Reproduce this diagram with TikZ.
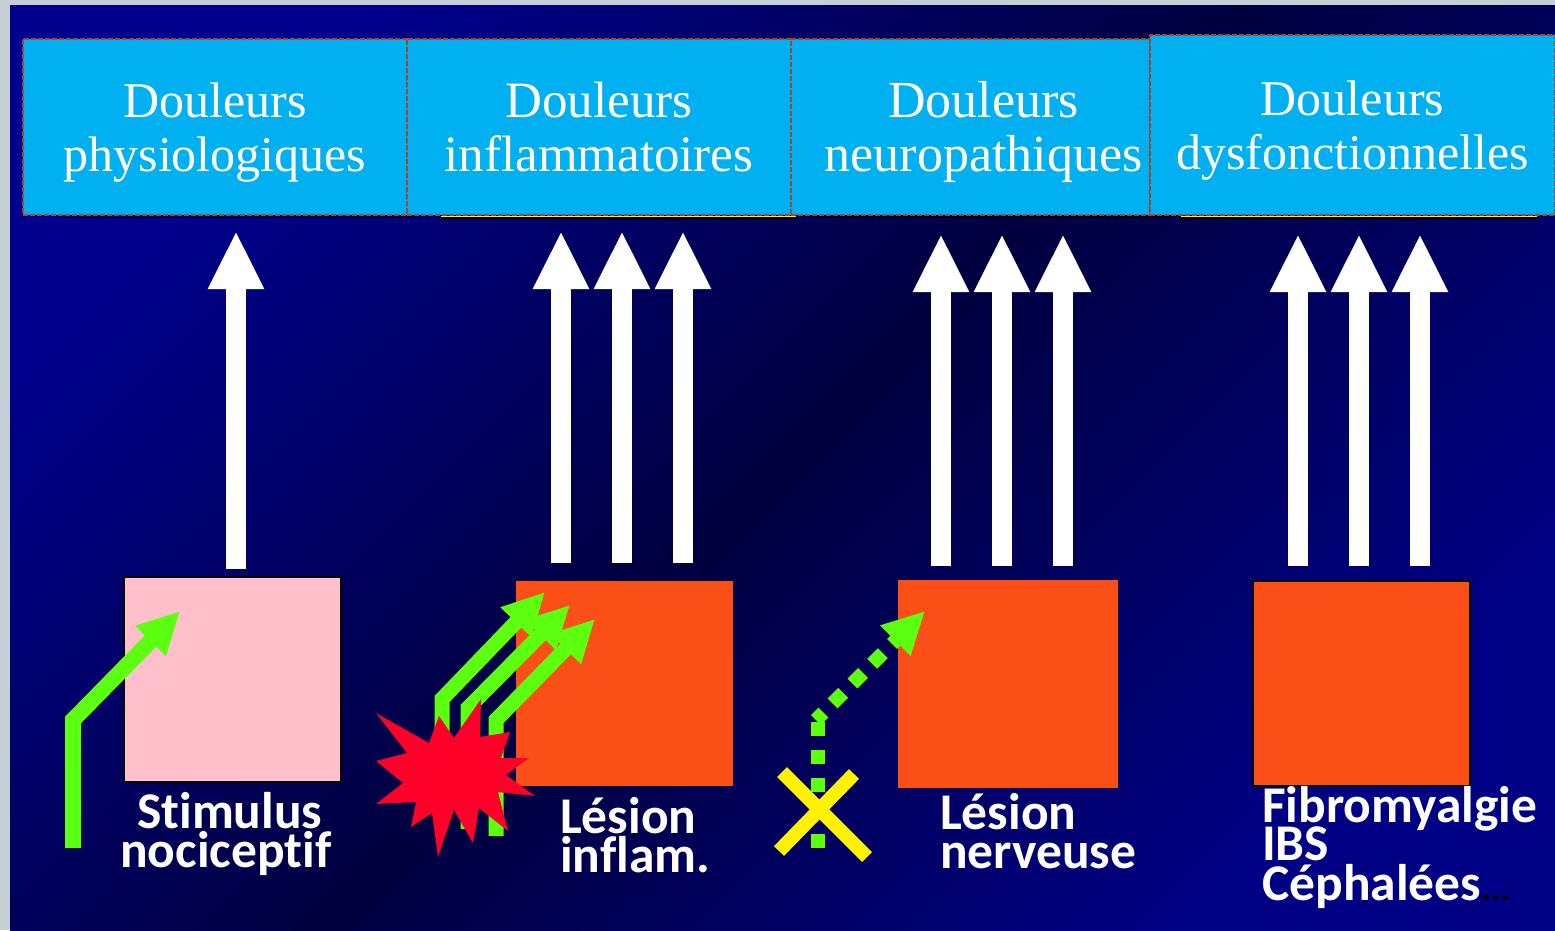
\documentclass[tikz,border=0pt]{standalone}
\usepackage{fontspec}
\setmainfont{Liberation Serif}
\newfontfamily\labelfont{Carlito}[Ligatures=NoCommon]
\usetikzlibrary{arrows.meta,positioning}
\definecolor{pagegrey}{HTML}{C5D0D6}
\definecolor{deepblue}{HTML}{00008C}
\definecolor{darkblue}{HTML}{00003F}
\definecolor{farblue}{HTML}{000084}
\definecolor{headblue}{HTML}{00B0F0}
\definecolor{headline}{HTML}{A8452F}
\definecolor{pinkbox}{HTML}{FFC0CB}
\definecolor{orangebox}{HTML}{FA5018}
\definecolor{greenarrow}{HTML}{5CFF10}
\definecolor{redstar}{HTML}{FF0028}
\newcommand{\headstrut}{\rule{0pt}{46pt}}
\newcommand{\headdepth}{\rule[-11pt]{0pt}{11pt}}

\begin{document}
\begin{tikzpicture}[
    x=1pt, y=-1pt,
    headbox/.style={
        rectangle, draw=headline, dash pattern=on 5pt off 2pt, line width=1.6pt, fill=headblue,
        anchor=north west, inner sep=0pt, outer sep=0pt, align=center, text=white,
        minimum height=176pt, font=\fontsize{50}{54}\selectfont
    },
    square/.style={rectangle, anchor=north west, inner sep=0pt, outer sep=0pt},
    blockarrow/.style={-{Triangle[length=58pt,width=52pt]}, white, line width=20pt, shorten >=16pt},
    lesionarrow/.style={-{Triangle[length=42pt,width=40pt]}, greenarrow, line width=15pt},
    crossline/.style={yellow, line width=14pt},
    labeltext/.style={
        text=white, align=left, inner sep=0pt,
        font=\labelfont\bfseries\fontsize{51.5}{39.5}\selectfont
    },
    shadowline/.style={black, line width=1.5pt}
]
\useasboundingbox (0,0) rectangle (1555,930);
\fill[pagegrey] (0,0) rectangle (1555,930);
\shade[top color=deepblue, bottom color=farblue, middle color=darkblue, shading angle=45] (10,5) rectangle (1555,930);

% lines under the headers
\draw[shadowline] (60,217.5) -- (415,217.5);
\draw[shadowline] (441,218) -- (797,218);
\draw[shadowline] (810,217.5) -- (1170,217.5);
\draw[shadowline] (1181,218) -- (1538,218);
\draw[yellow, line width=1.2pt] (441,216.5) -- (796,216.5);
\draw[yellow, line width=1.2pt] (1181,216.5) -- (1537,216.5);

\node[headbox, minimum width=384pt] (physio) at (23,39) {\headstrut Douleurs\\physiologiques\headdepth};
\node[headbox, minimum width=384pt, font=\fontsize{51}{54}\selectfont] (inflam) at (407,39) {\headstrut Douleurs\\inflammatoires\headdepth};
\node[headbox, text width=359pt, font=\fontsize{52}{54}\selectfont] (neuro) at (791,39) {\headstrut\hspace*{26pt}Douleurs\\\hspace*{26pt}neuropathiques\headdepth};
\node[headbox, minimum width=405pt, minimum height=180pt] (dysf) at (1150,35) {\headstrut Douleurs\\dysfonctionnelles\headdepth};

\node[square, fill=pinkbox, draw=black, line width=1.5pt, minimum width=217pt, minimum height=205pt] (stim) at (124,577) {};
\node[square, fill=orangebox, minimum width=217pt, minimum height=205pt] (infl) at (516,581) {};
\node[square, fill=orangebox, minimum width=220pt, minimum height=208pt] (nerv) at (898,580) {};
\node[square, fill=orangebox, draw=black, line width=1.5pt, minimum width=217pt, minimum height=205pt] (fibro) at (1253,581) {};

% white arrows up to the headers
\coordinate (s1) at (236,569);
\coordinate (i1) at (561,563);
\coordinate (i2) at (622,563);
\coordinate (i3) at (683,563);
\coordinate (n1) at (941,566);
\coordinate (n2) at (1002,566);
\coordinate (n3) at (1063,566);
\coordinate (f1) at (1298,566);
\coordinate (f2) at (1359,566);
\coordinate (f3) at (1420,566);
\draw[blockarrow] (s1) -- (s1 |- physio.south);
\draw[blockarrow] (i1) -- (i1 |- inflam.south);
\draw[blockarrow] (i2) -- (i2 |- inflam.south);
\draw[blockarrow] (i3) -- (i3 |- inflam.south);
\draw[blockarrow, shorten >=19pt] (n1) -- (n1 |- neuro.south);
\draw[blockarrow, shorten >=19pt] (n2) -- (n2 |- neuro.south);
\draw[blockarrow, shorten >=19pt] (n3) -- (n3 |- neuro.south);
\draw[blockarrow, shorten >=19pt] (f1) -- (f1 |- dysf.south);
\draw[blockarrow, shorten >=19pt] (f2) -- (f2 |- dysf.south);
\draw[blockarrow, shorten >=19pt] (f3) -- (f3 |- dysf.south);

% green arrows
\coordinate (stimfoot) at (73,848);
\coordinate (stimtip) at (180,611);
\coordinate (aafoot) at (442,820);
\coordinate (aatip) at (545,592);
\coordinate (bbfoot) at (468,829);
\coordinate (bbtip) at (570,605);
\coordinate (ccfoot) at (496,836);
\coordinate (cctip) at (595,619);
\coordinate (nervfoot) at (818,848);
\coordinate (nervbend) at (816,720);
\coordinate (nervtip) at (925,611);
\draw[lesionarrow, line width=16pt] (stimfoot) -- (73,720) -- (stimtip);
\draw[lesionarrow] (aafoot) -- (442,699) -- (aatip);
\draw[lesionarrow] (bbfoot) -- (468,708) -- (bbtip);
\draw[lesionarrow] (ccfoot) -- (496,720) -- (cctip);
\draw[greenarrow, line width=14pt, dash pattern=on 14pt off 14pt] (nervfoot) -- (818,721);
\draw[lesionarrow, line width=14pt, dash pattern=on 15pt off 13pt, dash phase=4.5pt] (nervbend) -- (nervtip);

% burst
\fill[redstar] (376,713) -- (429,743) -- (439,716) -- (454,738) -- (481,699) -- (480,737)
    -- (510,732) -- (501,758) -- (529,758) -- (506,775) -- (535,796) -- (498,792)
    -- (508,831) -- (479,808) -- (473,843) -- (454,810) -- (438,857) -- (432,813)
    -- (411,827) -- (416,802) -- (376,804) -- (403,783) -- (376,761) -- (407,753) -- cycle;

% cross
\draw[crossline] (782,772) -- (867,857);
\draw[crossline] (854,774) -- (779,851);

\node[labeltext, anchor=north west] (stimtext) at (120,792) {\hspace*{17pt}Stimulus\\nociceptif};
\node[labeltext, anchor=north west] (infltext) at (560,797) {Lésion\\inflam.};
\node[labeltext, anchor=north west] (nervtext) at (940,793) {Lésion\\nerveuse};
\node[labeltext, anchor=north west] (fibrotext) at (1262,786) {Fibromyalgie\\[-5.5pt]IBS\\[0.5pt]Céphalées\textcolor{black}{\fontsize{36}{36}\selectfont...}};
\end{tikzpicture}
\end{document}
